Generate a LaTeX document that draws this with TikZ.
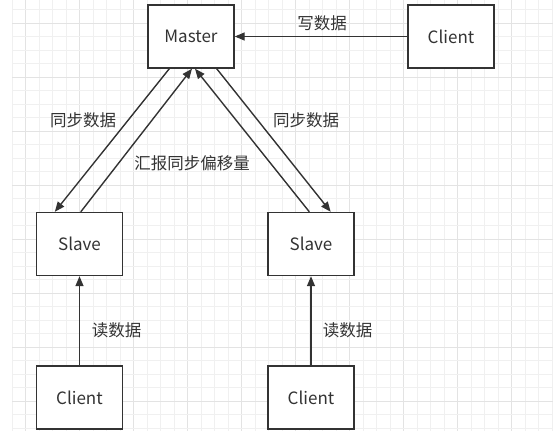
\documentclass[tikz,border=0pt]{standalone}
\usepackage{fontspec}
\setmainfont{Noto Sans CJK SC}
\usetikzlibrary{arrows.meta}
\definecolor{ink}{HTML}{333333}
\definecolor{gridminor}{HTML}{F0F0F0}
\definecolor{gridmajor}{HTML}{E3E3E3}
\tikzset{
  box/.style={draw=ink, line width=1.4pt, minimum width=86pt, minimum height=63pt, text=ink, font=\fontsize{17}{20}\selectfont},
  lbl/.style={text=ink, font=\fontsize{16.5}{20}\selectfont, inner sep=0pt},
  link/.style={->, draw=ink, line width=1.4pt}
}
\begin{document}
\begin{tikzpicture}[>={Triangle[length=10pt,width=8pt]}, x=1pt, y=-1pt]
\useasboundingbox (0,0) rectangle (553,434);
% grid
\foreach \i in {0,...,40}
{
    \pgfmathsetmacro{\gx}{12+13.5*\i}
    \pgfmathtruncatemacro{\m}{mod(\i,4)==1}
    \ifnum\m=1 \def\gc{gridmajor}\else\def\gc{gridminor}\fi
    \draw[\gc, line width=0.8pt](\gx,0)--(\gx,431);
}
\foreach \i in {0,...,31}
{
    \pgfmathsetmacro{\gy}{9.5+13.5*\i}
    \pgfmathtruncatemacro{\m}{mod(\i,4)==1}
    \ifnum\m=1 \def\gc{gridmajor}\else\def\gc{gridminor}\fi
    \draw[\gc, line width=0.8pt](12,\gy)--(553,\gy);
}

\node[box, fill=white] (master) at (191,36.5) {Master};
\node[box, fill=white] (wclient) at (451,36.5) {Client};
\node[box, fill=white] (slaveL) at (79.5,244) {Slave};
\node[box, fill=white] (slaveR) at (311,244) {Slave};
\node[box, fill=white] (rclientL) at (79.5,397.5) {Client};
\node[box, fill=white] (rclientR) at (311,397.5) {Client};

\draw[link](wclient)--(master);
\draw[link]([xshift=22pt]master.south west)--([xshift=19pt]slaveL.north west);
\draw[link]([xshift=45pt]slaveL.north west)--([xshift=1pt]master.south);
\draw[link]([xshift=-18pt]master.south east)--([xshift=-24pt]slaveR.north east);
\draw[link]([xshift=42pt]slaveR.north west)--([xshift=4pt]master.south);
\draw[link](rclientL)--(slaveL);
\draw[link](rclientR)--(slaveR);

\node[lbl] (write) at (322,23) {写数据};
\node[lbl] (syncL) at (83,120) {同步数据};
\node[lbl] (syncR) at (306,120) {同步数据};
\node[lbl] (report) at (192,163) {汇报同步偏移量};
\node[lbl] (readL) at (116.5,330) {读数据};
\node[lbl] (readR) at (347.5,330) {读数据};

\end{tikzpicture}
\end{document}
